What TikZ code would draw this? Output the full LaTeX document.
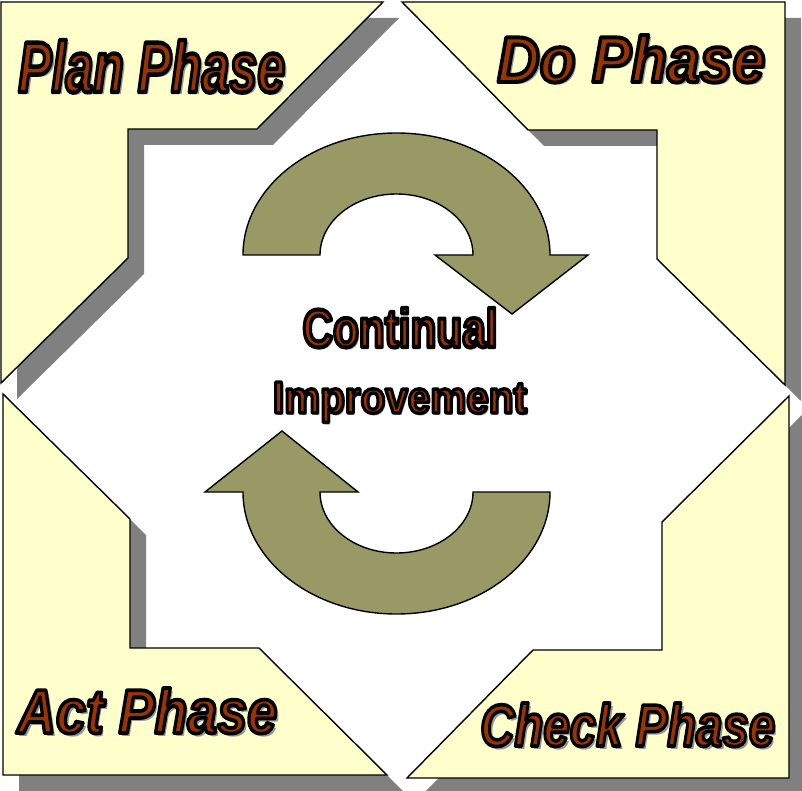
\documentclass[tikz,border=0pt]{standalone}
\usepackage{fontspec}
\setmainfont{Liberation Sans}
\usepackage{graphicx}
\usetikzlibrary{positioning}
\definecolor{phaseyellow}{RGB}{255,255,204}
\definecolor{phasebrown}{RGB}{153,51,0}
\definecolor{loopolive}{RGB}{153,153,102}
\definecolor{dropgray}{RGB}{128,128,128}
\definecolor{wordgray}{RGB}{150,150,150}

% outlined word art: fill brown, stroke black
\newcommand{\artword}[3]{\resizebox{#1}{#2}{\textcolor{phasebrown}{\special{pdf:literal direct 2 Tr 3 w 1 j 0 0 0 RG}#3\special{pdf:literal direct 0 Tr}}}}
\newcommand{\artshade}[3]{\resizebox{#1}{#2}{\textcolor{wordgray}{#3}}}

\begin{document}
\begin{tikzpicture}[x=1pt, y=-1pt,
  phase/.style={draw=black, line width=1.4pt, fill=phaseyellow},
  drop/.style={fill=dropgray},
  loop/.style={draw=black, line width=1.4pt, fill=loopolive},
  word/.style={inner sep=0pt, anchor=base west, font=\bfseries\itshape\fontsize{50}{60}\selectfont},
  midword/.style={inner sep=0pt, anchor=base, font=\bfseries\fontsize{40}{48}\selectfont}]
\useasboundingbox (0,0) rectangle (802,791);

% Corner shapes (shadow first)
\foreach \s/\st in {16/drop, 0/phase} {
  \path[\st, shift={(\s,\s)}] (1,2) -- (383,2) -- (257,129) -- (128,129) -- (128,258) -- (1,383) -- cycle;
  \path[\st, shift={(\s,\s)}] (402,2) -- (785,2) -- (785,385) -- (657,259) -- (657,130) -- (528,130) -- cycle;
  \path[\st, shift={(\s,\s)}] (3,394) -- (130,519) -- (130,648) -- (259,648) -- (387,775) -- (3,775) -- cycle;
  \path[\st, shift={(\s,\s)}] (789,396) -- (789,778) -- (407,778) -- (533,650) -- (662,650) -- (662,522) -- cycle;
}

% Cycle arrows
\path[loop] (243,255) arc (180:360:153.5 and 122) -- (588,255) -- (512,314) -- (435,255) -- (473,255)
  arc (360:180:76.5 and 61) -- cycle;
\path[loop] (550,492) arc (0:180:153.5 and 122) -- (205,492) -- (282,431) -- (358,492) -- (320,492)
  arc (180:0:76.5 and 61) -- cycle;

% Phase labels
\node[word] at (21,95) {\artshade{267pt}{52pt}{Plan Phase}};
\node[word] (plan) at (18,92) {\artword{267pt}{52pt}{Plan Phase}};
\node[word] at (500,85) {\artshade{268pt}{47pt}{Do Phase}};
\node[word] (do) at (497,82) {\artword{268pt}{47pt}{Do Phase}};
\node[word] at (20,736) {\artshade{260pt}{45pt}{Act Phase}};
\node[word] (act) at (17,733) {\artword{260pt}{45pt}{Act Phase}};
\node[word] at (483,749) {\artshade{295pt}{43pt}{Check Phase}};
\node[word] (check) at (480,746) {\artword{295pt}{43pt}{Check Phase}};

% Centre text
\node[midword] at (402,349) {\artshade{195pt}{39pt}{Continual}};
\node[midword] (continual) at (400,347) {\artword{195pt}{39pt}{Continual}};
\node[midword] at (402,415) {\artshade{254pt}{31pt}{Improvement}};
\node[midword] (improvement) at (400,413) {\artword{254pt}{31pt}{Improvement}};
\end{tikzpicture}
\end{document}
